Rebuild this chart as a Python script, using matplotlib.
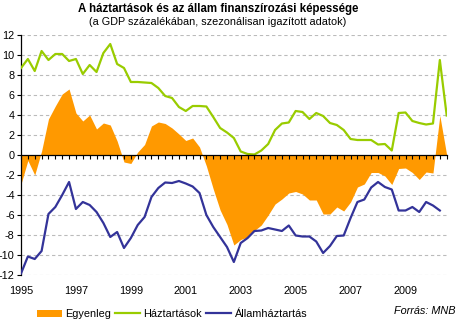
import matplotlib
matplotlib.use("Agg")
import matplotlib.pyplot as plt
from matplotlib.patches import Patch
from matplotlib.lines import Line2D
from matplotlib.transforms import blended_transform_factory

plt.rcParams['font.family'] = ['Liberation Sans', 'DejaVu Sans']

# Quarterly data, 1995Q1 .. 2010Q3 (index 0..62)
haztartasok = [8.7, 9.6, 8.4, 10.4, 9.5, 10.1, 10.1, 9.4, 9.6, 8.1,
               9.0, 8.3, 10.2, 11.1, 9.1, 8.7, 7.3, 7.3, 7.25, 7.2,
               6.7, 5.9, 5.7, 4.8, 4.4, 4.9, 4.9, 4.85, 3.8, 2.7,
               2.25, 1.7, 0.35, 0.1, 0.05, 0.45, 1.1, 2.5, 3.15, 3.25,
               4.4, 4.3, 3.6, 4.2, 3.9, 3.2, 3.0, 2.5, 1.6, 1.5,
               1.5, 1.5, 1.05, 1.1, 0.45, 4.2, 4.25, 3.4, 3.2, 3.05,
               3.15, 9.5, 3.95]
allamhaztartas = [-11.85, -10.15, -10.4, -9.6, -5.9, -5.2, -4.0, -2.7, -5.4, -4.7,
                  -5.0, -5.7, -6.8, -8.2, -7.7, -9.3, -8.3, -7.0, -6.2, -4.2,
                  -3.3, -2.75, -2.8, -2.6, -2.85, -3.15, -3.8, -6.0, -7.2, -8.2,
                  -9.2, -10.7, -8.8, -8.3, -7.6, -7.55, -7.3, -7.45, -7.6, -7.05,
                  -8.05, -8.15, -8.15, -8.65, -9.8, -9.1, -8.1, -8.05, -6.3, -4.7,
                  -4.45, -3.25, -2.7, -3.2, -3.45, -5.55, -5.55, -5.2, -5.7, -4.7,
                  -5.05, -5.55]
egyenleg = [-2.9, -0.55, -2.0, 0.4, 3.6, 4.9, 6.1, 6.6, 4.2, 3.4,
            4.0, 2.6, 3.2, 3.0, 1.4, -0.7, -0.85, 0.3, 1.05, 2.9,
            3.3, 3.15, 2.7, 2.1, 1.45, 1.7, 0.8, -1.1, -3.4, -5.5,
            -6.95, -9.0, -8.45, -8.2, -7.55, -7.0, -6.0, -4.9, -4.4, -3.8,
            -3.65, -3.9, -4.5, -4.5, -5.9, -5.9, -5.2, -5.6, -4.7, -3.2,
            -2.9, -1.75, -1.75, -2.1, -2.95, -1.35, -1.3, -1.75, -2.45, -1.7,
            -1.8, 3.95, 0.0]
year_labels = ['1995', '1997', '1999', '2001', '2003', '2005', '2007', '2009']
y_ticks = [12, 10, 8, 6, 4, 2, 0, -2, -4, -6, -8, -10, -12]

ORANGE = '#FF9900'
GREEN = '#99CC00'
BLUE = '#333399'
FS = 7.8

W, H = 460, 323
fig = plt.figure(figsize=(W / 100, H / 100), dpi=100)
ax = fig.add_axes([21 / W, 1 - 275 / H, 425.7 / W, 240 / H])

x_b = list(range(len(egyenleg)))
x_h = list(range(len(haztartasok)))
x_a = list(range(len(allamhaztartas)))

for yv in y_ticks:
    if yv != 0:
        ax.axhline(yv, color='#BBBBBB', lw=0.8, ls=(0, (3, 2.5)), zorder=0)

ax.fill_between(x_b, egyenleg, 0, color=ORANGE, lw=0, zorder=1)
ax.plot(x_h, haztartasok, color=GREEN, lw=1.6, zorder=3)
ax.plot(x_a, allamhaztartas, color=BLUE, lw=1.6, zorder=3)

ax.set_xlim(0, 62)
ax.set_ylim(-12, 12)
ax.set_yticks(y_ticks)
ax.set_yticklabels([str(v) for v in y_ticks])
ax.tick_params(axis='y', direction='out', length=3, width=0.8, pad=1.5,
               labelsize=FS, colors='black')
ax.set_xticks(range(0, 63))
ax.set_xticklabels([])
ax.tick_params(axis='x', direction='out', length=3, width=0.8)
ax.spines['bottom'].set_position(('data', 0))
ax.spines['bottom'].set_linewidth(0.9)
ax.spines['left'].set_linewidth(0.9)
ax.spines['top'].set_visible(False)
ax.spines['right'].set_visible(False)
ax.spines['bottom'].set_zorder(4)

trans = blended_transform_factory(ax.transData, ax.transAxes)
for k, lab in enumerate(year_labels):
    ax.text(k * 8, -16 / 240, lab, transform=trans, ha='center', va='center',
            fontsize=FS)

fig.text(218 / W, 1 - 9 / H, 'A háztartások és az állam finanszírozási képessége',
         ha='center', va='center', fontsize=8.3, fontweight='bold')
fig.text(218 / W, 1 - 22 / H, '(a GDP százalékában, szezonálisan igazított adatok)',
         ha='center', va='center', fontsize=FS)

handles = [Patch(facecolor=ORANGE, edgecolor='none'),
           Line2D([], [], color=GREEN, lw=1.6),
           Line2D([], [], color=BLUE, lw=1.6)]
fig.legend(handles, ['Egyenleg', 'Háztartások', 'Államháztartás'],
           loc='center', bbox_to_anchor=(172 / W, 1 - 314 / H), ncol=3,
           frameon=False, fontsize=FS, handlelength=2.3, handleheight=0.6,
           handletextpad=0.3, columnspacing=0.4, borderpad=0)
fig.text(456 / W, 1 - 311 / H, 'Forrás: MNB', ha='right', va='center',
         fontsize=FS, style='italic')

fig.savefig('out.png', dpi=100)
